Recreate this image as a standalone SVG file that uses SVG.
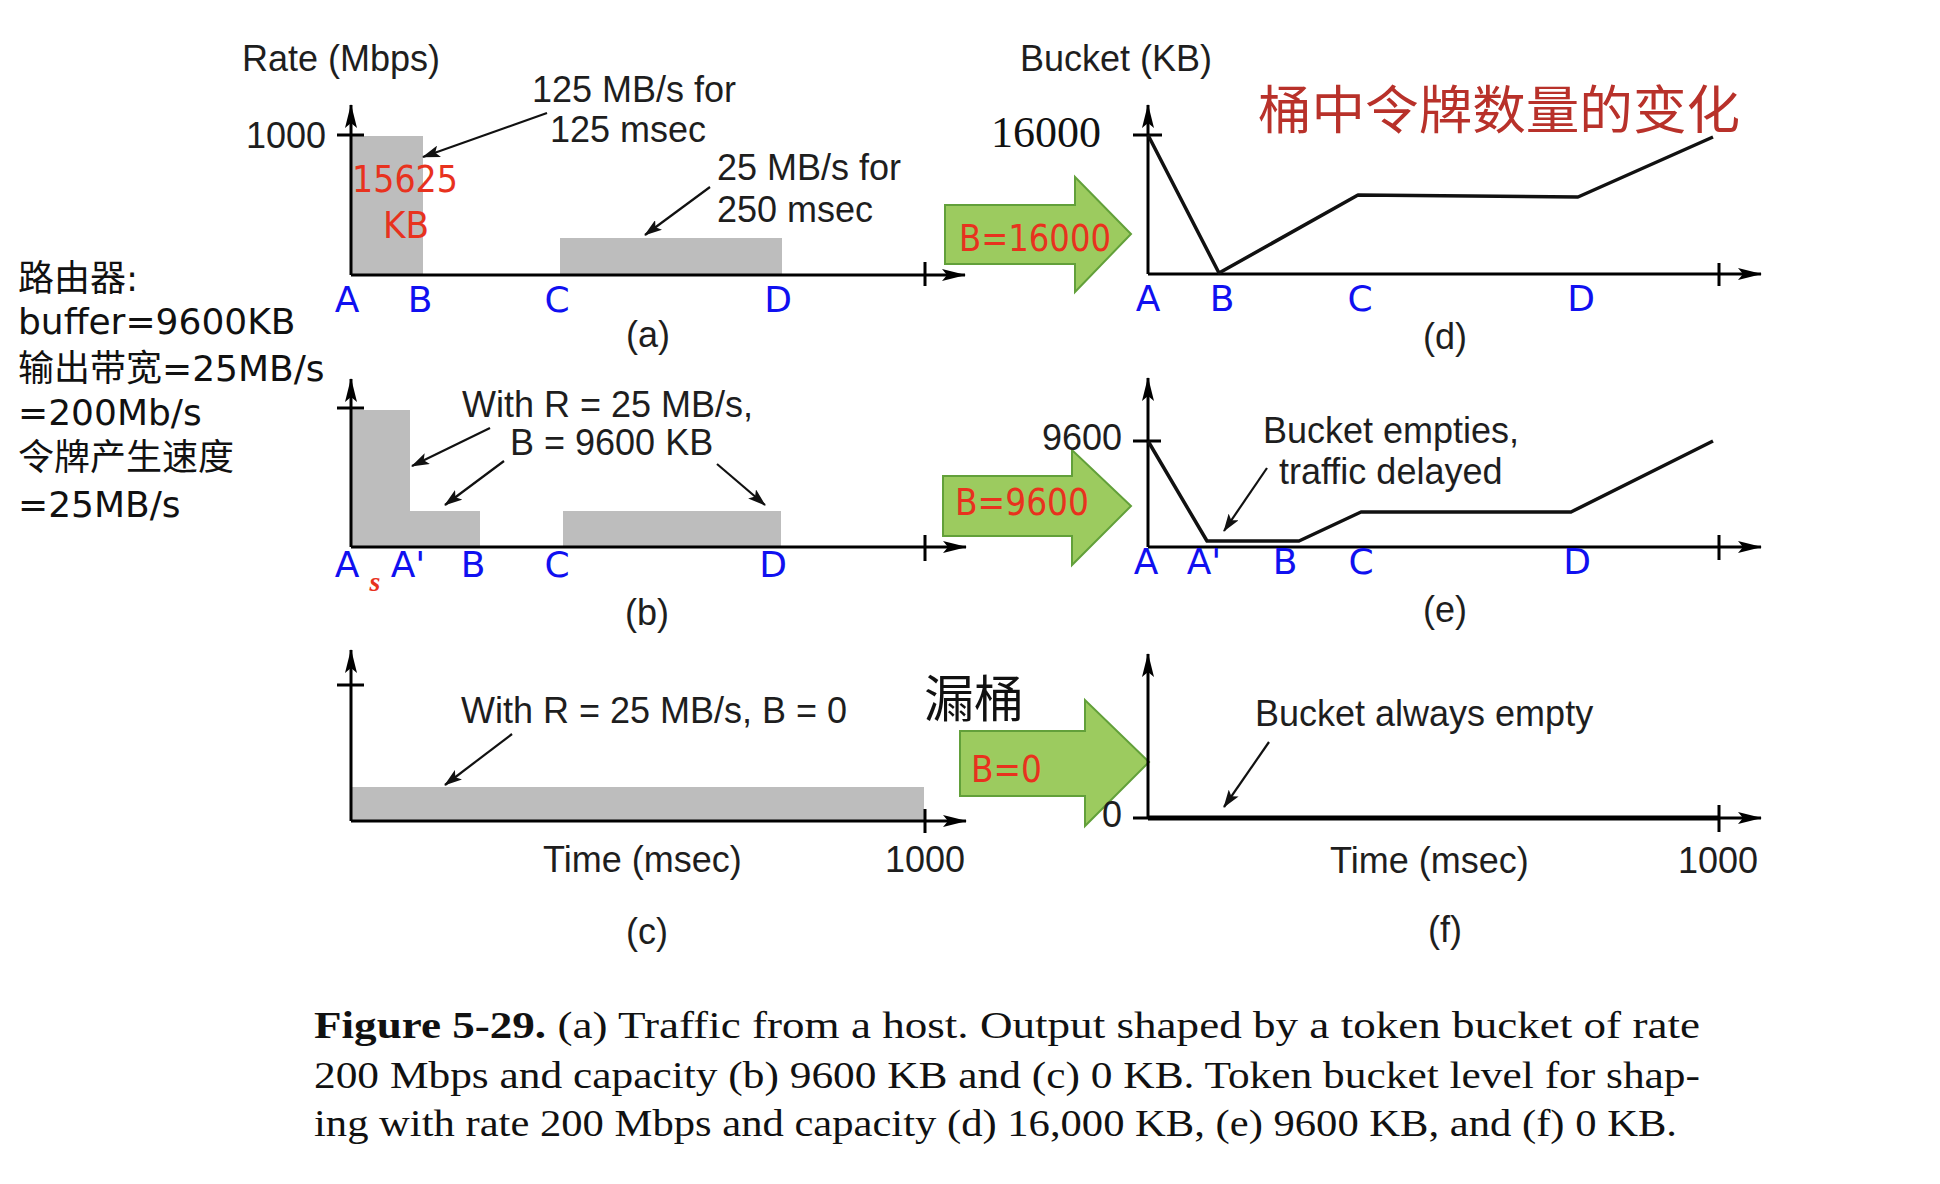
<svg xmlns="http://www.w3.org/2000/svg" width="1940" height="1184" viewBox="0 0 1940 1184">
<style>
.ax{stroke:#000;stroke-width:3;fill:none}
.tk{stroke:#000;stroke-width:3;fill:none}
.bar{fill:#bdbdbd}
.an{stroke:#111;stroke-width:2.2;fill:none}
.dl{stroke:#111;stroke-width:3.5;fill:none;stroke-linejoin:round}
.t{font-family:"Liberation Sans",Arial,sans-serif;font-size:36px;fill:#1e1e1e}
.cap{font-family:"Liberation Sans",Arial,sans-serif;font-size:36px;fill:#1e1e1e;text-anchor:middle}
.lb{font-family:"DejaVu Sans",sans-serif;font-size:36px;fill:#1010f0;text-anchor:middle}
.red{font-family:"DejaVu Sans",sans-serif;font-size:38px;fill:#e8321e}
.ga{fill:#9ccb5f;stroke:#62a03a;stroke-width:2}
.lt{font-family:"DejaVu Sans","Noto Sans CJK SC",sans-serif;font-size:36px;fill:#111}
.fig{font-family:"Liberation Serif","Times New Roman",serif;font-size:38px;fill:#111}
</style>
<defs>
<marker id="axh" viewBox="0 0 24 14" refX="23" refY="7" markerWidth="24" markerHeight="14" markerUnits="userSpaceOnUse" orient="auto">
<path d="M0,1 L24,7 L0,13 L5,7 Z" fill="#000"/>
</marker>
<marker id="anh" viewBox="0 0 18 12" refX="17" refY="6" markerWidth="18" markerHeight="12" markerUnits="userSpaceOnUse" orient="auto">
<path d="M0,0 L18,6 L0,12 L4,6 Z" fill="#111"/>
</marker>
</defs>
<rect width="1940" height="1184" fill="#fff"/>

<g id="left-notes">
<text class="lt" x="18" y="291">路由器:</text>
<text class="lt" x="18" y="334">buffer=9600KB</text>
<text class="lt" x="18" y="381">输出带宽=25MB/s</text>
<text class="lt" x="18" y="425">=200Mb/s</text>
<text class="lt" x="18" y="470">令牌产生速度</text>
<text class="lt" x="18" y="517">=25MB/s</text>
</g>

<g id="panel-a">
<rect class="bar" x="351" y="136" width="72" height="139"/>
<rect class="bar" x="560" y="238" width="222" height="37"/>
<path class="ax" d="M351,275 V105" marker-end="url(#axh)"/>
<path class="ax" d="M351,275 H965" marker-end="url(#axh)"/>
<path class="tk" d="M337,135 H364 M925,262 V286"/>
<text class="t" x="242" y="71">Rate (Mbps)</text>
<text class="t" x="326" y="148" text-anchor="end">1000</text>
<text class="red" x="352" y="192" textLength="106" lengthAdjust="spacingAndGlyphs">15625</text>
<text class="red" x="383" y="238" textLength="46" lengthAdjust="spacingAndGlyphs">KB</text>
<text class="t" x="532" y="102">125 MB/s for</text>
<text class="t" x="550" y="142">125 msec</text>
<text class="t" x="717" y="180">25 MB/s for</text>
<text class="t" x="717" y="222">250 msec</text>
<text class="lb" x="347" y="312">A</text>
<text class="lb" x="420" y="312">B</text>
<text class="lb" x="557" y="312">C</text>
<text class="lb" x="778" y="312">D</text>
<text class="cap" x="648" y="347">(a)</text>
</g>

<g id="panel-b">
<rect class="bar" x="351" y="410" width="59" height="137"/>
<rect class="bar" x="410" y="511" width="70" height="36"/>
<rect class="bar" x="563" y="511" width="218" height="36"/>
<path class="ax" d="M351,547 V379" marker-end="url(#axh)"/>
<path class="ax" d="M351,547 H966" marker-end="url(#axh)"/>
<path class="tk" d="M337,408 H364 M925,535 V561"/>
<text class="t" x="462" y="417">With R = 25 MB/s,</text>
<text class="t" x="510" y="455">B = 9600 KB</text>
<text class="lb" x="347" y="577">A</text>
<text x="375" y="591" font-family="Liberation Serif,serif" font-size="28" font-weight="bold" font-style="italic" fill="#e8321e" text-anchor="middle">s</text>
<text class="lb" x="408" y="577">A'</text>
<text class="lb" x="473" y="577">B</text>
<text class="lb" x="557" y="577">C</text>
<text class="lb" x="773" y="577">D</text>
<text class="cap" x="647" y="625">(b)</text>
</g>

<g id="panel-c">
<rect class="bar" x="351" y="787" width="573" height="34"/>
<path class="ax" d="M351,821 V650" marker-end="url(#axh)"/>
<path class="ax" d="M351,821 H966" marker-end="url(#axh)"/>
<path class="tk" d="M337,685 H364 M925,809 V833"/>
<text class="t" x="461" y="723">With R = 25 MB/s, B = 0</text>
<text class="t" x="543" y="872">Time (msec)</text>
<text class="t" x="885" y="872">1000</text>
<text class="cap" x="647" y="944">(c)</text>
</g>

<g id="arrow-b16000">
<path class="ga" d="M945,205 H1075 V177 L1131,234 L1075,292 V264 H945 Z"/>
<text class="red" x="959" y="251" textLength="152" lengthAdjust="spacingAndGlyphs">B=16000</text>
</g>
<g id="arrow-b9600">
<path class="ga" d="M943,476 H1072 V450 L1131,506 L1072,565 V536 H943 Z"/>
<text class="red" x="955" y="515" textLength="134" lengthAdjust="spacingAndGlyphs">B=9600</text>
</g>
<g id="arrow-b0">
<path class="ga" d="M960,731 H1085 V700 L1149,762 L1085,826 V796 H960 Z"/>
<text class="red" x="971" y="782" textLength="71" lengthAdjust="spacingAndGlyphs">B=0</text>
</g>
<text id="leaky-label" x="924" y="717" font-family="Noto Sans CJK SC,sans-serif" font-size="50" fill="#111">漏桶</text>

<g id="panel-d">
<path class="ax" d="M1148,274 V105" marker-end="url(#axh)"/>
<path class="ax" d="M1148,274 H1761" marker-end="url(#axh)"/>
<path class="tk" d="M1133,135 H1162 M1719,263 V286"/>
<path class="dl" d="M1148,135 L1219,273 L1358,195 L1578,197 L1713,137"/>
<text class="t" x="1020" y="71">Bucket (KB)</text>
<text x="991" y="147" font-family="Liberation Serif,serif" font-size="44" fill="#111">16000</text>
<text x="1258" y="129" font-family="Noto Sans CJK SC,sans-serif" font-size="52" fill="#b8312a" textLength="482" lengthAdjust="spacingAndGlyphs">桶中令牌数量的变化</text>
<text class="lb" x="1148" y="311">A</text>
<text class="lb" x="1222" y="311">B</text>
<text class="lb" x="1360" y="311">C</text>
<text class="lb" x="1581" y="311">D</text>
<text class="cap" x="1445" y="349">(d)</text>
</g>

<g id="panel-e">
<path class="ax" d="M1148,547 V378" marker-end="url(#axh)"/>
<path class="ax" d="M1148,547 H1761" marker-end="url(#axh)"/>
<path class="tk" d="M1133,441 H1161 M1719,535 V560"/>
<path class="dl" d="M1148,441 L1207,541 L1299,541 L1361,512 L1571,512 L1713,441"/>
<text class="t" x="1122" y="450" text-anchor="end">9600</text>
<text class="t" x="1263" y="443">Bucket empties,</text>
<text class="t" x="1279" y="484">traffic delayed</text>
<text class="lb" x="1146" y="574">A</text>
<text class="lb" x="1204" y="574">A'</text>
<text class="lb" x="1285" y="574">B</text>
<text class="lb" x="1361" y="574">C</text>
<text class="lb" x="1577" y="574">D</text>
<text class="cap" x="1445" y="622">(e)</text>
</g>

<g id="panel-f">
<path class="ax" d="M1148,818 V654" marker-end="url(#axh)"/>
<path class="ax" d="M1148,818 H1761" marker-end="url(#axh)"/>
<path d="M1148,818 H1719" stroke="#000" stroke-width="5" fill="none"/>
<path class="tk" d="M1133,818 H1148 M1719,805 V832"/>
<text class="t" x="1122" y="827" text-anchor="end">0</text>
<text class="t" x="1255" y="726">Bucket always empty</text>
<text class="t" x="1330" y="873">Time (msec)</text>
<text class="t" x="1678" y="873">1000</text>
<text class="cap" x="1445" y="942">(f)</text>
</g>

<g id="connectors">
<path class="an" d="M547,113 L423,157" marker-end="url(#anh)"/>
<path class="an" d="M710,187 L645,235" marker-end="url(#anh)"/>
<path class="an" d="M490,428 L412,466" marker-end="url(#anh)"/>
<path class="an" d="M504,461 L445,505" marker-end="url(#anh)"/>
<path class="an" d="M717,464 L765,505" marker-end="url(#anh)"/>
<path class="an" d="M512,734 L445,785" marker-end="url(#anh)"/>
<path class="an" d="M1267,468 L1224,531" marker-end="url(#anh)"/>
<path class="an" d="M1269,742 L1224,807" marker-end="url(#anh)"/>
</g>

<g id="caption">
<text class="fig" x="314" y="1038" textLength="1386" lengthAdjust="spacingAndGlyphs"><tspan font-weight="bold">Figure 5-29.</tspan> (a) Traffic from a host. Output shaped by a token bucket of rate</text>
<text class="fig" x="314" y="1088" textLength="1386" lengthAdjust="spacingAndGlyphs">200 Mbps and capacity (b) 9600 KB and (c) 0 KB.  Token bucket level for shap-</text>
<text class="fig" x="314" y="1136" textLength="1363" lengthAdjust="spacingAndGlyphs">ing with rate 200 Mbps and capacity (d) 16,000 KB, (e) 9600 KB, and (f) 0 KB.</text>
</g>
</svg>
